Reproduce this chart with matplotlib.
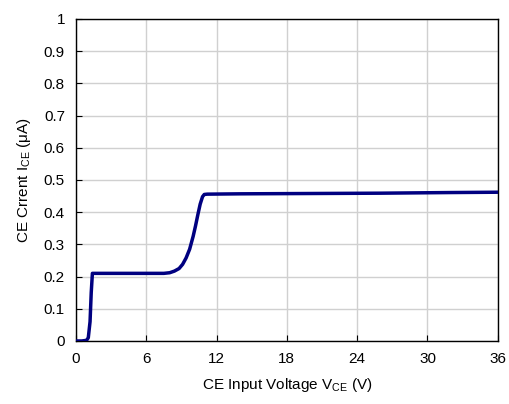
import matplotlib
matplotlib.use("Agg")
import matplotlib.pyplot as plt

plt.rcParams['font.family'] = ['Liberation Sans', 'DejaVu Sans']
plt.rcParams['mathtext.fontset'] = 'custom'
plt.rcParams['mathtext.rm'] = 'Liberation Sans'
plt.rcParams['mathtext.it'] = 'Liberation Sans'

# data
vce = [0, 0.5, 0.9, 1.05, 1.2, 1.3, 1.4, 3, 6, 7.5, 8.0, 8.4, 8.8, 9.1, 9.4, 9.7,
       10.0, 10.2, 10.4, 10.6, 10.8, 10.95, 11.2, 14, 20, 26, 32, 36]
ice = [0, 0, 0.002, 0.01, 0.06, 0.15, 0.21, 0.21, 0.21, 0.21, 0.212, 0.217, 0.225,
       0.238, 0.258, 0.285, 0.325, 0.357, 0.392, 0.425, 0.448, 0.455, 0.456,
       0.457, 0.458, 0.459, 0.461, 0.462]
xticks = [0, 6, 12, 18, 24, 30, 36]
yticks = [0, 0.1, 0.2, 0.3, 0.4, 0.5, 0.6, 0.7, 0.8, 0.9, 1]
ylabels = ['0', '0.1', '0.2', '0.3', '0.4', '0.5', '0.6', '0.7', '0.8', '0.9', '1']

fig = plt.figure(figsize=(5.1, 4.04), dpi=100)
ax = fig.add_axes([0.149, 0.156, 0.827, 0.797])
ax.plot(vce, ice, color='#000080', lw=2.5, solid_joinstyle='round', zorder=3)

ax.set_xlim(0, 36)
ax.set_ylim(0, 1)
ax.set_xticks(xticks)
ax.set_yticks(yticks)
ax.set_yticklabels(ylabels)
ax.grid(True, color='#d0d0d0', lw=1)
ax.tick_params(direction='in', length=4, labelsize=11, pad=8, color='black')
for s in ax.spines.values():
    s.set_color('black')
    s.set_linewidth(1)

ax.set_xlabel('CE Input Voltage V$_{\\rm CE}$ (V)', fontsize=11, labelpad=7)
ax.set_ylabel('CE Crrent I$_{\\rm CE}$ (\u03bcA)', fontsize=11, labelpad=8)

plt.savefig('out.png', dpi=100)
